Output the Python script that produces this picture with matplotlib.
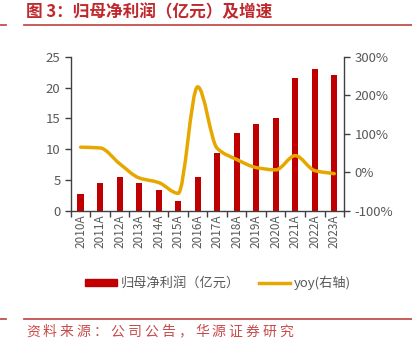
import matplotlib
matplotlib.use("Agg")
import matplotlib.pyplot as plt
from matplotlib.path import Path
from matplotlib.patches import PathPatch
from matplotlib.lines import Line2D
from matplotlib.ticker import FuncFormatter

plt.rcParams['font.family'] = ['Noto Sans CJK SC', 'DejaVu Sans']

# data
years = ["2010A", "2011A", "2012A", "2013A", "2014A", "2015A", "2016A",
         "2017A", "2018A", "2019A", "2020A", "2021A", "2022A", "2023A"]
profit = [2.7, 4.45, 5.5, 4.55, 3.3, 1.6, 5.4, 9.4, 12.65, 14.1, 15.1, 21.6, 22.95, 22.1]
yoy = [65, 63, 22, -15, -27, -55, 222, 62, 33, 12, 6, 43, 4, -4]

red = "#C00000"
gold = "#E6A800"
grey = "#595959"
title_red = "#C0282D"


def smooth_path(xs, ys):
    # monotone cubic (Fritsch-Carlson) tangents, drawn as bezier segments
    n = len(xs)
    d = [(ys[i + 1] - ys[i]) / (xs[i + 1] - xs[i]) for i in range(n - 1)]
    m = [d[0]] + [0.0] * (n - 2) + [d[-1]]
    for i in range(1, n - 1):
        if d[i - 1] * d[i] > 0:
            m[i] = 2 / (1 / d[i - 1] + 1 / d[i])
    verts = [(xs[0], ys[0])]
    codes = [Path.MOVETO]
    for i in range(n - 1):
        h = xs[i + 1] - xs[i]
        verts += [(xs[i] + h / 3, ys[i] + m[i] * h / 3),
                  (xs[i + 1] - h / 3, ys[i + 1] - m[i + 1] * h / 3),
                  (xs[i + 1], ys[i + 1])]
        codes += [Path.CURVE4] * 3
    return Path(verts, codes)


fig = plt.figure(figsize=(4.12, 3.51), dpi=100)
ax = fig.add_axes([0.172, 0.400, 0.663, 0.438])
x = list(range(len(years)))
ax.bar(x, profit, width=0.32, color=red, zorder=2)
ax.set_xlim(-0.5, len(years) - 0.5)
ax.set_ylim(0, 25)
ax.set_yticks([0, 5, 10, 15, 20, 25])
ax.set_xticks(x)
ax.set_xticklabels(years, rotation=90, color=grey, fontsize=8.5)
ax.set_xticks([i - 0.5 for i in range(len(years) + 1)], minor=True)
ax.tick_params(axis='x', which='major', length=0, pad=3)
ax.tick_params(axis='x', which='minor', length=4, width=1, color="#404040", direction='out')
ax.tick_params(axis='y', labelsize=9.5, labelcolor=grey, length=4, width=1, color="#404040")
for s in ["top", "right"]:
    ax.spines[s].set_visible(False)
for s in ["left", "bottom"]:
    ax.spines[s].set_color("#404040")
    ax.spines[s].set_linewidth(1)

ax2 = ax.twinx()
ax2.set_ylim(-100, 300)
ax2.set_yticks([-100, 0, 100, 200, 300])
ax2.yaxis.set_major_formatter(FuncFormatter(lambda v, p: "%d%%" % v))
ax2.tick_params(axis='y', labelsize=9.5, labelcolor=grey, length=4, width=1, color="#404040")
for s in ["top", "left", "bottom"]:
    ax2.spines[s].set_visible(False)
ax2.spines["right"].set_color("#404040")
ax2.spines["right"].set_linewidth(1)
ax2.add_patch(PathPatch(smooth_path(x, yoy), fill=False, ec=gold, lw=2.5,
                        capstyle='round', zorder=3))

handles = [plt.Rectangle((0, 0), 1, 1, color=red),
           Line2D([], [], color=gold, lw=2.5)]
fig.legend(handles, ["归母净利润（亿元）", "yoy(右轴)"], loc="center",
           bbox_to_anchor=(0.53, 0.195), ncol=2, frameon=False, fontsize=9.5,
           labelcolor=grey, handlelength=2.4, handleheight=0.45,
           handletextpad=0.3, columnspacing=1.4)

# title and source with red rules
fig.text(0.062, 1 - 11.7 / 351, "图 3：归母净利润（亿元）及增速", color=title_red,
         fontsize=12, fontweight="bold", va="center", ha="left")
source = "资料来源：公司公告，华源证券研究"
for i, ch in enumerate(source):
    # the source line uses wide character spacing
    fig.text((26 + i * 16.9) / 412, 1 - 331.7 / 351, ch, color="#C84B4B",
             fontsize=10, va="center", ha="left")
for yp in [25, 319]:
    yy = 1 - yp / 351
    fig.add_artist(Line2D([0, 6 / 412], [yy, yy], color="#C0504D", lw=1.3))
    fig.add_artist(Line2D([24 / 412, 1], [yy, yy], color="#C0504D", lw=1.3))

fig.savefig("out.png", dpi=100)
